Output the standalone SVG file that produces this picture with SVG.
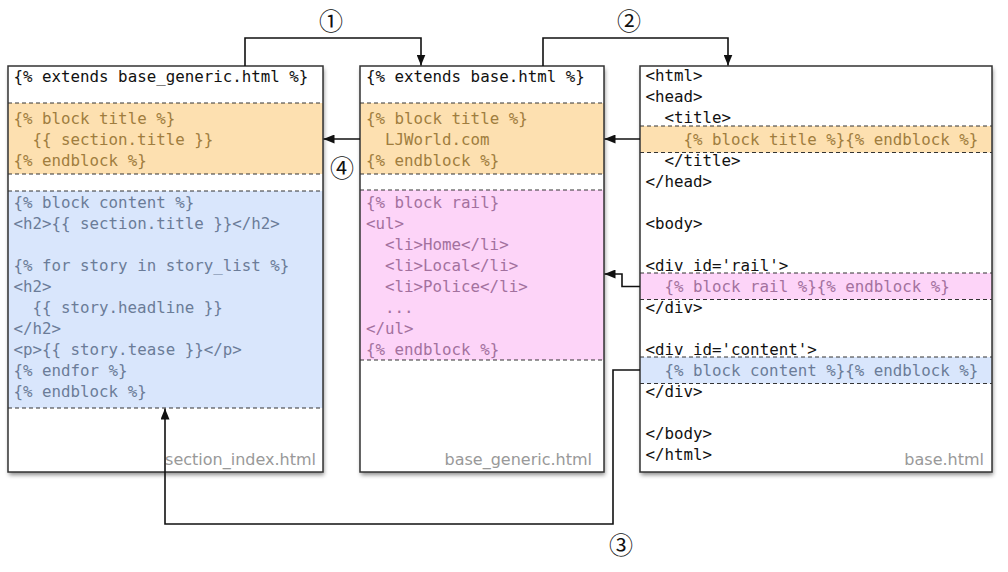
<svg xmlns="http://www.w3.org/2000/svg" width="1008" height="572" viewBox="0 0 1008 572">
<style>
.box{fill:#fff;stroke:none}
.border{fill:none;stroke:#333;stroke-width:1.5}
.dash{stroke:#333;stroke-width:1;stroke-dasharray:4 3;fill:none}
.code{font-family:"DejaVu Sans Mono","Liberation Mono",monospace;font-size:15.8px}
.k{fill:#111}
.o{fill:#a07d3e}
.b{fill:#6b7c98}
.p{fill:#a3719e}
.fo{fill:#fde0b0}
.fb{fill:#d9e6fc}
.fp{fill:#fdd4f8}
.lbl{font-family:"DejaVu Sans","Liberation Sans",sans-serif;font-size:16px;fill:#999;text-anchor:end}
.num{font-family:"Noto Sans CJK JP","DejaVu Sans",sans-serif;font-size:24px;fill:#111;text-anchor:middle}
.con{fill:none;stroke:#111;stroke-width:1.6}
</style>
<defs>
<filter id="sh" x="-5%" y="-5%" width="115%" height="115%">
<feDropShadow dx="1" dy="3" stdDeviation="2" flood-color="#000" flood-opacity="0.45"/>
</filter>
<marker id="ah" viewBox="0 0 11 9" refX="11" refY="4.5" markerWidth="11" markerHeight="9" markerUnits="userSpaceOnUse" orient="auto">
<path d="M0,0 L11,4.5 L0,9 z" fill="#111"/>
</marker>
</defs>

<g id="section_index">
<rect class="box" x="8" y="66" width="315" height="406" filter="url(#sh)"/>
<rect class="fo" x="8" y="103" width="315" height="71"/>
<rect class="fb" x="8" y="191" width="315" height="217"/>
<line class="dash" x1="8" y1="103" x2="323" y2="103"/>
<line class="dash" x1="8" y1="174" x2="323" y2="174"/>
<line class="dash" x1="8" y1="191" x2="323" y2="191"/>
<line class="dash" x1="8" y1="408" x2="323" y2="408"/>
<rect class="border" x="8" y="66" width="315" height="406"/>
<g class="code">
<text class="k" x="13.5" y="82">{% extends base_generic.html %}</text>
<text class="o" x="13.5" y="123.5">{% block title %}</text>
<text class="o" x="32.5" y="144.5">{{ section.title }}</text>
<text class="o" x="13.5" y="165.5">{% endblock %}</text>
<text class="b" x="13.5" y="207.5">{% block content %}</text>
<text class="b" x="13.5" y="228.5">&lt;h2&gt;{{ section.title }}&lt;/h2&gt;</text>
<text class="b" x="13.5" y="270.5">{% for story in story_list %}</text>
<text class="b" x="13.5" y="291.5">&lt;h2&gt;</text>
<text class="b" x="32.5" y="312.5">{{ story.headline }}</text>
<text class="b" x="13.5" y="333.5">&lt;/h2&gt;</text>
<text class="b" x="13.5" y="354.5">&lt;p&gt;{{ story.tease }}&lt;/p&gt;</text>
<text class="b" x="13.5" y="375.5">{% endfor %}</text>
<text class="b" x="13.5" y="396.5">{% endblock %}</text>
</g>
<text class="lbl" x="316" y="465">section_index.html</text>
</g>

<g id="base_generic">
<rect class="box" x="360" y="66" width="244" height="406" filter="url(#sh)"/>
<rect class="fo" x="360" y="103" width="244" height="71"/>
<rect class="fp" x="360" y="190" width="244" height="170"/>
<line class="dash" x1="360" y1="103" x2="604" y2="103"/>
<line class="dash" x1="360" y1="174" x2="604" y2="174"/>
<line class="dash" x1="360" y1="190" x2="604" y2="190"/>
<line class="dash" x1="360" y1="360" x2="604" y2="360"/>
<rect class="border" x="360" y="66" width="244" height="406"/>
<g class="code">
<text class="k" x="366" y="82">{% extends base.html %}</text>
<text class="o" x="366" y="123.5">{% block title %}</text>
<text class="o" x="385" y="144.5">LJWorld.com</text>
<text class="o" x="366" y="165.5">{% endblock %}</text>
<text class="p" x="366" y="207.5">{% block rail}</text>
<text class="p" x="366" y="228.5">&lt;ul&gt;</text>
<text class="p" x="385" y="249.5">&lt;li&gt;Home&lt;/li&gt;</text>
<text class="p" x="385" y="270.5">&lt;li&gt;Local&lt;/li&gt;</text>
<text class="p" x="385" y="291.5">&lt;li&gt;Police&lt;/li&gt;</text>
<text class="p" x="385" y="312.5">...</text>
<text class="p" x="366" y="333.5">&lt;/ul&gt;</text>
<text class="p" x="366" y="354.5">{% endblock %}</text>
</g>
<text class="lbl" x="592" y="465">base_generic.html</text>
</g>

<g id="base">
<rect class="box" x="640" y="66" width="352" height="406" filter="url(#sh)"/>
<rect class="fo" x="640" y="126" width="352" height="26.5"/>
<rect class="fp" x="640" y="273" width="352" height="26.5"/>
<rect class="fb" x="640" y="357" width="352" height="26.5"/>
<line class="dash" x1="640" y1="126" x2="992" y2="126"/>
<line class="dash" x1="640" y1="152.5" x2="992" y2="152.5"/>
<line class="dash" x1="640" y1="273" x2="992" y2="273"/>
<line class="dash" x1="640" y1="299.5" x2="992" y2="299.5"/>
<line class="dash" x1="640" y1="357" x2="992" y2="357"/>
<line class="dash" x1="640" y1="383.5" x2="992" y2="383.5"/>
<rect class="border" x="640" y="66" width="352" height="406"/>
<g class="code">
<text class="k" x="645.5" y="81">&lt;html&gt;</text>
<text class="k" x="645.5" y="102">&lt;head&gt;</text>
<text class="k" x="664.5" y="123">&lt;title&gt;</text>
<text class="o" x="683.5" y="144.5">{% block title %}{% endblock %}</text>
<text class="k" x="664.5" y="165.5">&lt;/title&gt;</text>
<text class="k" x="645.5" y="186.5">&lt;/head&gt;</text>
<text class="k" x="645.5" y="228.5">&lt;body&gt;</text>
<text class="k" x="645.5" y="270.5">&lt;div id='rail'&gt;</text>
<text class="p" x="664.5" y="291.5">{% block rail %}{% endblock %}</text>
<text class="k" x="645.5" y="312.5">&lt;/div&gt;</text>
<text class="k" x="645.5" y="354.5">&lt;div id='content'&gt;</text>
<text class="b" x="664.5" y="375.5">{% block content %}{% endblock %}</text>
<text class="k" x="645.5" y="396.5">&lt;/div&gt;</text>
<text class="k" x="645.5" y="438.5">&lt;/body&gt;</text>
<text class="k" x="645.5" y="459.5">&lt;/html&gt;</text>
</g>
<text class="lbl" x="984" y="465">base.html</text>
</g>

<g id="connectors">
<path class="con" d="M245,66 V38 H421 V65.5" marker-end="url(#ah)"/>
<path class="con" d="M543,66 V38 H728 V65.5" marker-end="url(#ah)"/>
<path class="con" d="M640,370 H613 V524 H165 V408.5" marker-end="url(#ah)"/>
<path class="con" d="M640,139 H604.5" marker-end="url(#ah)"/>
<path class="con" d="M360,139 H323.5" marker-end="url(#ah)"/>
<path class="con" d="M640,286.5 H622 V274 H604.5" marker-end="url(#ah)"/>
<text class="num" x="331" y="30">①</text>
<text class="num" x="629" y="30">②</text>
<text class="num" x="621" y="554">③</text>
<text class="num" x="342" y="177">④</text>
</g>
</svg>
